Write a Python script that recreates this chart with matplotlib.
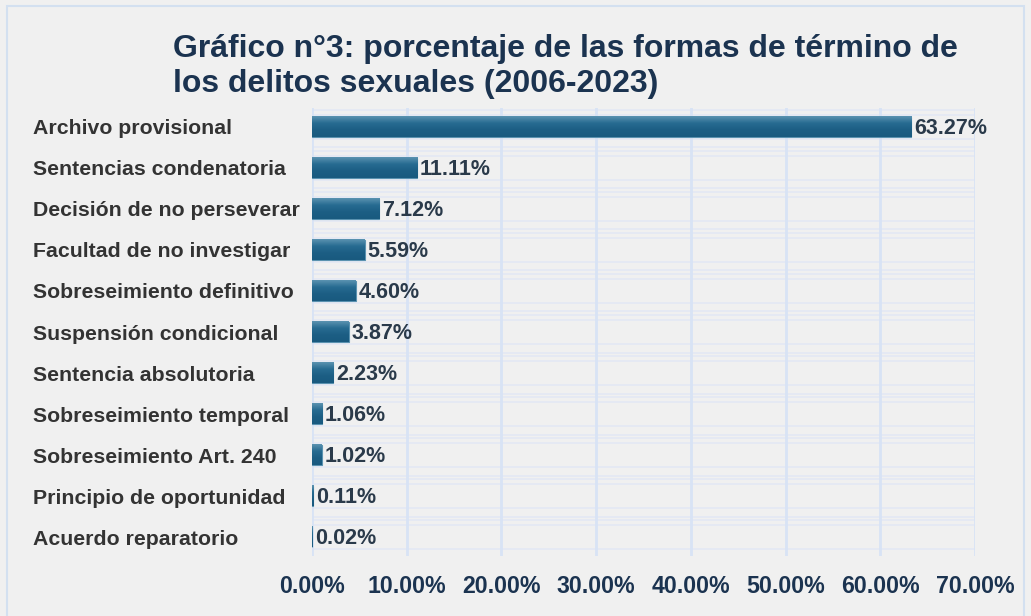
import numpy as np
import matplotlib.pyplot as plt
from matplotlib.patches import Rectangle
from matplotlib.colors import LinearSegmentedColormap

categories = ['Archivo provisional', 'Sentencias condenatoria', 'Decisión de no perseverar',
              'Facultad de no investigar', 'Sobreseimiento definitivo', 'Suspensión condicional',
              'Sentencia absolutoria', 'Sobreseimiento temporal', 'Sobreseimiento Art. 240',
              'Principio de oportunidad', 'Acuerdo reparatorio']
values = [63.27, 11.11, 7.12, 5.59, 4.60, 3.87, 2.23, 1.06, 1.02, 0.11, 0.02]
x_ticks = [0, 10, 20, 30, 40, 50, 60, 70]

plt.rcParams['font.family'] = ['Liberation Sans', 'DejaVu Sans']

bg = '#f0f0f0'
navy = '#1b3350'
fig = plt.figure(figsize=(10.31, 6.16), dpi=100, facecolor=bg)
ax = fig.add_axes([312 / 1031, 1 - 556 / 616, 663 / 1031, 448 / 616])
ax.set_facecolor(bg)

# figure border
fig.patches.append(Rectangle((7 / 1031, -0.05), 1017 / 1031, 1.04, transform=fig.transFigure,
                             fill=False, edgecolor='#d3e0f0', linewidth=1.5))

y = np.arange(len(categories))
h = 0.49

# faint horizontal lines between bars
for yy in y:
    for off in (-0.42, -0.3, 0.3, 0.5):
        ax.axhline(yy + off, color='#e3e8f4', linewidth=1.2, zorder=0)
for xt in x_ticks:
    ax.axvline(xt, color='#d8e3f5', linewidth=2, zorder=0.5)

# bars with a vertical gradient (lighter top)
grad_cmap = LinearSegmentedColormap.from_list('bar', ['#5a92b0', '#276b91', '#1c5e84', '#195a7f'])
grad = np.linspace(0, 1, 50).reshape(-1, 1)
bars = ax.barh(y, values, height=h, color='#1c5e84', edgecolor='#5a92b0', linewidth=0.8, zorder=2)
for b, yy, v in zip(bars, y, values):
    ax.imshow(grad, cmap=grad_cmap, aspect='auto', extent=(0, v, yy + h / 2, yy - h / 2),
              zorder=2.1, interpolation='bilinear')

for yy, v in zip(y, values):
    ax.text(v + 0.3, yy + 0.03, f'{v:.2f}%', va='center', ha='left', fontsize=15.5,
            fontweight='bold', color='#2a3a4a', zorder=3)

ax.set_xlim(0, 70)
ax.set_ylim(10.46, -0.46)
ax.set_aspect('auto')
ax.set_xticks(x_ticks)
ax.set_xticklabels([f'{t:.2f}%' for t in x_ticks], fontsize=16.7, fontweight='bold', color=navy)
ax.set_yticks(y)
ax.set_yticklabels(categories, fontsize=15.3, fontweight='bold', color='#333333', ha='left')
ax.tick_params(axis='y', length=0, pad=279 * 72 / 100)
ax.tick_params(axis='x', length=0, pad=14)
for s in ax.spines.values():
    s.set_visible(False)

fig.text(173 / 1031, 1 - 34 / 616, 'Gráfico n°3: porcentaje de las formas de término de\nlos delitos sexuales (2006-2023)',
         fontsize=23, fontweight='bold', color=navy, ha='left', va='top', linespacing=1.22)

fig.savefig('out.png', dpi=100, facecolor=bg)
